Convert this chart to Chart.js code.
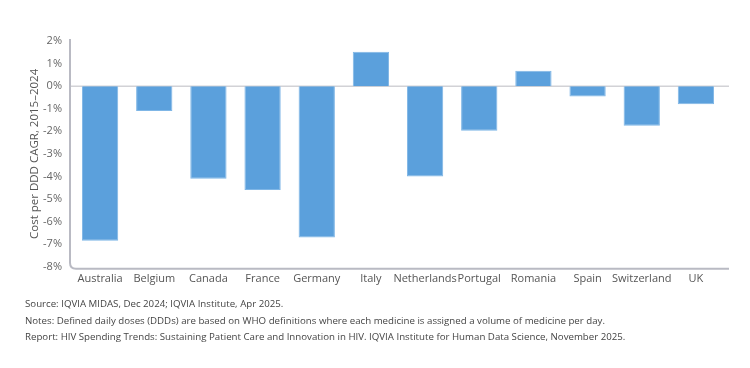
<!DOCTYPE html>
<html>
<head>
<meta charset="utf-8">
<script src="https://cdn.jsdelivr.net/npm/chart.js@4"></script>
<style>
  body { margin: 0; background: #fff; font-family: "Open Sans", sans-serif; }
  #wrap { position: relative; width: 750px; height: 368px; }
  #notes { position: absolute; left: 25px; top: 296px; font-size: 9.7px; color: #444; line-height: 16.5px; }
</style>
</head>
<body>
<div id="wrap">
  <canvas id="chart" width="750" height="368"></canvas>
  <div id="notes">
    <div>Source: IQVIA MIDAS, Dec 2024; IQVIA Institute, Apr 2025.</div>
    <div>Notes: Defined daily doses (DDDs) are based on WHO definitions where each medicine is assigned a volume of medicine per day.</div>
    <div>Report: HIV Spending Trends: Sustaining Patient Care and Innovation in HIV. IQVIA Institute for Human Data Science, November 2025.</div>
  </div>
</div>
<script>
// dati (CAGR %)
const countries = ['Australia', 'Belgium', 'Canada', 'France', 'Germany', 'Italy',
    'Netherlands', 'Portugal', 'Romania', 'Spain', 'Switzerland', 'UK'];
const cagr = [-6.85, -1.1, -4.1, -4.6, -6.7, 1.52, -4.0, -1.97, 0.68, -0.46, -1.75, -0.8];
const yTicks = [2, 1, 0, -1, -2, -3, -4, -5, -6, -7, -8];

const barColor = '#5ba0dc';
const axisColor = '#b9bac3';

// assi con angolo arrotondato + linea dello zero, un po' oltre l'area del grafico
const axisCorner = {
    id: 'axisCorner',
    beforeDatasetsDraw(chart) {
        const { ctx, chartArea: a } = chart;
        const y0 = chart.scales.y.getPixelForValue(0);
        ctx.save();
        ctx.strokeStyle = '#d2d2d6';
        ctx.lineWidth = 1.5;
        ctx.beginPath();
        ctx.moveTo(a.left - 3, y0);
        ctx.lineTo(a.right + 6, y0);
        ctx.stroke();
        ctx.restore();
    },
    afterDatasetsDraw(chart) {
        const { ctx, chartArea: a } = chart;
        const r = 6;
        const x = a.left - 3;
        const yb = a.bottom + 2;
        ctx.save();
        ctx.strokeStyle = axisColor;
        ctx.lineWidth = 2;
        ctx.beginPath();
        ctx.moveTo(x, a.top - 2);
        ctx.lineTo(x, yb - r);
        ctx.quadraticCurveTo(x, yb, x + r, yb);
        ctx.lineTo(a.right + 6, yb);
        ctx.stroke();
        ctx.restore();
    }
};

new Chart(document.getElementById('chart'), {
    type: 'bar',
    data: {
        labels: countries,
        datasets: [{
            data: cagr,
            backgroundColor: barColor,
            borderColor: '#7fb6e6',
            borderWidth: 1,
            barPercentage: 0.67,
            categoryPercentage: 1
        }]
    },
    options: {
        responsive: false,
        animation: false,
        layout: { padding: { top: 41, right: 27, bottom: 78, left: 28 } },
        plugins: { legend: { display: false }, tooltip: { enabled: false } },
        scales: {
            x: {
                grid: { display: false, drawTicks: false },
                border: { display: false },
                ticks: {
                    color: '#555',
                    font: { family: 'Open Sans', size: 11 },
                    autoSkip: false,
                    maxRotation: 0,
                    minRotation: 0,
                    padding: 5
                }
            },
            y: {
                min: -8,
                max: 2,
                afterBuildTicks: (scale) => { scale.ticks = yTicks.map(v => ({ value: v })); },
                afterFit: (scale) => { scale.width = 45; },
                border: { display: false },
                grid: { display: false, drawTicks: false },
                ticks: {
                    color: '#666',
                    font: { family: 'Open Sans', size: 11 },
                    padding: 11,
                    callback: (v) => v + '%'
                },
                title: {
                    display: true,
                    text: 'Cost per DDD CAGR, 2015–2024',
                    color: '#555',
                    font: { family: 'Open Sans', size: 11.5 },
                    padding: { top: 0, bottom: 0 }
                }
            }
        }
    },
    plugins: [axisCorner]
});
</script>
</body>
</html>
